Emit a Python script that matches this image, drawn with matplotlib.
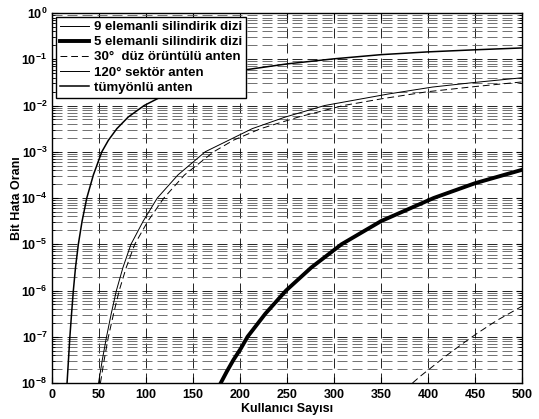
import numpy as np
import matplotlib
matplotlib.use('Agg')
import matplotlib.pyplot as plt
from matplotlib.lines import Line2D

plt.rcParams['font.family'] = 'Liberation Sans'
plt.rcParams['font.weight'] = 'bold'
plt.rcParams['mathtext.fontset'] = 'custom'
plt.rcParams['mathtext.rm'] = 'Liberation Sans:bold'
plt.rcParams['mathtext.bf'] = 'Liberation Sans:bold'

# x = number of users, y = log10(BER)
omni_x = [16, 17.5, 19, 20.8, 22.7, 25, 28, 32, 37, 44, 53, 60, 69, 81, 98, 122,
          155, 205, 250, 300, 350, 400, 450, 500]
omni_log = [-8, -7.5, -7, -6.5, -6, -5.5, -5, -4.5, -4, -3.5, -3, -2.75, -2.5, -2.25,
            -2.0, -1.75, -1.5, -1.23, -1.10, -0.99, -0.90, -0.84, -0.795, -0.755]

sect_x = [49.5, 53.5, 58, 63, 68.5, 75.5, 84, 97, 112, 134, 163, 213, 248, 290,
          358, 405, 450, 500]
sect_log = [-8, -7.5, -7, -6.5, -6, -5.5, -5, -4.5, -4, -3.5, -3, -2.5, -2.25, -2.0,
            -1.75, -1.6, -1.5, -1.4]

flat_x = [51.5, 55.5, 60, 65.5, 71.5, 79, 88, 102, 119, 141, 172, 193, 222, 262,
          310, 352, 400, 450, 500]
flat_log = [-8, -7.5, -7, -6.5, -6, -5.5, -5, -4.5, -4, -3.5, -3, -2.75, -2.5, -2.25,
            -2.0, -1.85, -1.70, -1.59, -1.49]

el5_x = [179.5, 186, 193, 201, 208, 227, 249, 276, 308, 350, 378, 406, 450, 500]
el5_log = [-8, -7.75, -7.5, -7.25, -7, -6.5, -6, -5.5, -5, -4.5, -4.25, -4.0, -3.68, -3.39]

el9_x = [383.5, 392, 402, 420, 436, 452, 473, 500]
el9_log = [-8, -7.85, -7.69, -7.40, -7.16, -6.93, -6.65, -6.34]

labels = ['9 elemanli silindirik dizi', '5 elemanli silindirik dizi',
          '30°  düz örüntülü anten', '120° sektör anten', 'tümyönlü anten']

fig = plt.figure(figsize=(5.39, 4.19), dpi=100)
ax = fig.add_axes([0.0965, 0.0859, 0.872, 0.883])

dash = (0, (7, 4))
ax.plot(el9_x, 10 ** np.array(el9_log), color='k', lw=0.7, linestyle=dash)
ax.plot(el5_x, 10 ** np.array(el5_log), color='k', lw=2.8)
ax.plot(flat_x, 10 ** np.array(flat_log), color='k', lw=0.7, linestyle=dash)
ax.plot(sect_x, 10 ** np.array(sect_log), color='k', lw=0.7)
ax.plot(omni_x, 10 ** np.array(omni_log), color='k', lw=1.1)

ax.set_yscale('log')
ax.set_xlim(0, 500)
ax.set_ylim(1e-8, 1)
ax.set_xticks(np.arange(0, 501, 50))
ax.set_yticks([10.0 ** k for k in range(-8, 1)])
ax.set_yticklabels([r'$10^{%d}$' % k for k in range(-8, 1)])

gdash = (0, (12, 6))
ax.grid(True, which='major', axis='both', color='k', lw=0.6, linestyle=gdash)
ax.grid(True, which='minor', axis='y', color='0.35', lw=0.6, linestyle=gdash)
ax.tick_params(which='both', direction='in', top=True, right=True, labelsize=9)
ax.tick_params(which='major', length=4, width=0.8)
ax.tick_params(which='minor', length=2.5, width=0.6)
ax.tick_params(axis='x', pad=4)
for s in ax.spines.values():
    s.set_linewidth(1.0)

ax.set_xlabel('Kullanıcı Sayısı', fontsize=9, fontweight='bold', labelpad=2)
ax.set_ylabel('Bit Hata Oranı', fontsize=9, fontweight='bold')
ax.yaxis.set_label_coords(-0.062, 0.5)

handles = [Line2D([], [], color='k', lw=0.7),
           Line2D([], [], color='k', lw=2.8),
           Line2D([], [], color='k', lw=0.7, linestyle=dash),
           Line2D([], [], color='k', lw=0.7),
           Line2D([], [], color='k', lw=1.1)]
leg = ax.legend(handles, labels, loc='upper left', fontsize=9.5, frameon=True,
                fancybox=False, edgecolor='k', framealpha=1, borderaxespad=0.3,
                handlelength=2.2, handletextpad=0.35, labelspacing=0.22,
                borderpad=0.3)
leg.get_frame().set_linewidth(1.0)
for t in leg.get_texts():
    t.set_fontweight('bold')

fig.savefig('out.png', dpi=100)
